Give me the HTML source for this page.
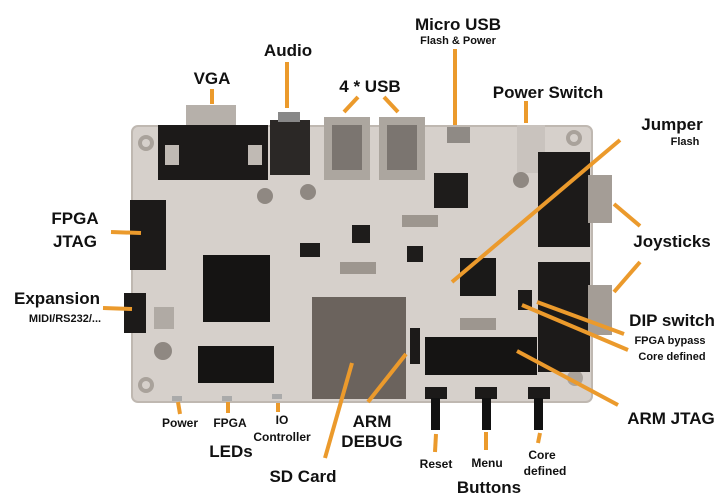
<!DOCTYPE html>
<html><head><meta charset="utf-8"><style>
html,body{margin:0;padding:0;background:#fff;}
svg{display:block;}
text{font-family:"Liberation Sans",Arial,sans-serif;font-weight:bold;fill:#111;}
</style></head><body>
<svg width="728" height="498" viewBox="0 0 728 498" xmlns="http://www.w3.org/2000/svg">
<!-- board -->
<rect x="132" y="126" width="460" height="276" rx="6" fill="#d6d0cb"/>
<rect x="132" y="126" width="460" height="276" rx="6" fill="none" stroke="#bfb8b1" stroke-width="2"/>
<!-- mounting holes -->
<circle cx="146" cy="143" r="8" fill="#a9a29b"/><circle cx="146" cy="143" r="4" fill="#d6d0cb"/>
<circle cx="574" cy="138" r="8" fill="#a9a29b"/><circle cx="574" cy="138" r="4" fill="#d6d0cb"/>
<circle cx="146" cy="385" r="8" fill="#a9a29b"/><circle cx="146" cy="385" r="4" fill="#d6d0cb"/>
<circle cx="575" cy="378" r="8" fill="#a9a29b"/>
<!-- VGA -->
<rect x="186" y="105" width="50" height="22" fill="#b6b0aa"/>
<rect x="158" y="125" width="110" height="55" fill="#1c1a19"/>
<rect x="165" y="145" width="14" height="20" fill="#c0bab4"/><rect x="248" y="145" width="14" height="20" fill="#c0bab4"/>
<!-- Audio -->
<rect x="270" y="120" width="40" height="55" fill="#2b2826"/><rect x="278" y="112" width="22" height="10" fill="#888"/>
<!-- USB -->
<rect x="324" y="117" width="46" height="63" fill="#aca69f"/><rect x="332" y="125" width="30" height="45" fill="#7b7570"/>
<rect x="379" y="117" width="46" height="63" fill="#aca69f"/><rect x="387" y="125" width="30" height="45" fill="#7b7570"/>
<!-- micro usb -->
<rect x="447" y="127" width="23" height="16" fill="#8f8a85"/>
<rect x="517" y="125" width="28" height="48" fill="#c9c3be"/>
<!-- small chips -->
<rect x="434" y="173" width="34" height="35" fill="#1e1c1b"/>
<rect x="352" y="225" width="18" height="18" fill="#1e1c1b"/>
<rect x="407" y="246" width="16" height="16" fill="#1e1c1b"/>
<rect x="300" y="243" width="20" height="14" fill="#1e1c1b"/>
<rect x="402" y="215" width="36" height="12" fill="#9d968f"/>
<rect x="340" y="262" width="36" height="12" fill="#9d968f"/>
<rect x="460" y="318" width="36" height="12" fill="#9d968f"/>
<circle cx="265" cy="196" r="8" fill="#8f8882"/><circle cx="308" cy="192" r="8" fill="#8f8882"/>
<circle cx="163" cy="351" r="9" fill="#8f8882"/><circle cx="521" cy="180" r="8" fill="#8f8882"/>
<!-- FPGA JTAG -->
<rect x="130" y="200" width="36" height="70" fill="#1c1a19"/>
<!-- Expansion -->
<rect x="124" y="293" width="22" height="40" fill="#1c1a19"/>
<rect x="154" y="307" width="20" height="22" fill="#b0aaa4"/>
<!-- FPGA chip -->
<rect x="203" y="255" width="67" height="67" fill="#151413"/>
<!-- SDRAM -->
<rect x="198" y="346" width="76" height="37" fill="#151413"/>
<!-- SD card -->
<rect x="312" y="297" width="94" height="102" fill="#6b635d"/>
<!-- ARM debug header -->
<rect x="410" y="328" width="10" height="36" fill="#1c1a19"/>
<!-- ARM chip -->
<rect x="460" y="258" width="36" height="38" fill="#1a1918"/>
<!-- DIP -->
<rect x="518" y="290" width="14" height="20" fill="#1c1a19"/>
<!-- Joysticks -->
<rect x="538" y="152" width="52" height="95" fill="#1c1a19"/>
<rect x="588" y="175" width="24" height="48" fill="#a49d96"/>
<rect x="538" y="262" width="52" height="110" fill="#1c1a19"/>
<rect x="588" y="285" width="24" height="50" fill="#a49d96"/>
<!-- ARM JTAG -->
<rect x="425" y="337" width="112" height="38" fill="#151413"/>
<!-- buttons -->
<rect x="425" y="387" width="22" height="12" fill="#1c1a19"/><rect x="475" y="387" width="22" height="12" fill="#1c1a19"/><rect x="528" y="387" width="22" height="12" fill="#1c1a19"/>
<rect x="431" y="398" width="9" height="32" fill="#111"/><rect x="482" y="398" width="9" height="32" fill="#111"/><rect x="534" y="398" width="9" height="32" fill="#111"/>
<!-- LEDs -->
<rect x="172" y="396" width="10" height="5" fill="#aaa"/><rect x="222" y="396" width="10" height="5" fill="#aaa"/><rect x="272" y="394" width="10" height="5" fill="#aaa"/>

<!-- orange lines -->
<g stroke="#eb9a2c" stroke-width="4" stroke-linecap="butt" fill="none">
<line x1="212" y1="89" x2="212" y2="104"/>
<line x1="287" y1="62" x2="287" y2="108"/>
<line x1="358" y1="97" x2="344" y2="112"/>
<line x1="384" y1="97" x2="398" y2="112"/>
<line x1="455" y1="49" x2="455" y2="125"/>
<line x1="526" y1="101" x2="526" y2="123"/>
<line x1="620" y1="140" x2="452" y2="282"/>
<line x1="111" y1="232" x2="141" y2="233"/>
<line x1="103" y1="308" x2="132" y2="309"/>
<line x1="614" y1="204" x2="640" y2="226"/>
<line x1="614" y1="292" x2="640" y2="262"/>
<line x1="537" y1="302" x2="624" y2="334"/>
<line x1="522" y1="305" x2="628" y2="350"/>
<line x1="517" y1="351" x2="618" y2="405"/>
<line x1="178" y1="402" x2="180" y2="414"/>
<line x1="228" y1="402" x2="228" y2="413"/>
<line x1="278" y1="403" x2="278" y2="412"/>
<line x1="352" y1="363" x2="325" y2="458"/>
<line x1="406" y1="354" x2="368" y2="402"/>
<line x1="436" y1="434" x2="435" y2="452"/>
<line x1="486" y1="432" x2="486" y2="450"/>
<line x1="540" y1="433" x2="538" y2="443"/>
</g>

<!-- labels -->
<g font-size="17" text-anchor="middle">
<text x="212" y="84">VGA</text>
<text x="288" y="56">Audio</text>
<text x="370" y="92">4 * USB</text>
<text x="458" y="30">Micro USB</text>
<text x="548" y="98">Power Switch</text>
<text x="672" y="130" >Jumper</text>
<text x="75" y="224">FPGA</text>
<text x="75" y="247">JTAG</text>
<text x="57" y="304">Expansion</text>
<text x="672" y="247">Joysticks</text>
<text x="672" y="326">DIP switch</text>
<text x="671" y="424">ARM JTAG</text>
<text x="231" y="457">LEDs</text>
<text x="303" y="482">SD Card</text>
<text x="372" y="427">ARM</text>
<text x="372" y="447">DEBUG</text>
<text x="489" y="493">Buttons</text>
</g>
<g font-size="11" text-anchor="middle">
<text x="458" y="44">Flash &amp; Power</text>
<text x="685" y="145">Flash</text>
<text x="65" y="322">MIDI/RS232/...</text>
<text x="670" y="344">FPGA bypass</text>
<text x="672" y="360">Core defined</text>
</g>
<g font-size="12" text-anchor="middle">
<text x="180" y="427">Power</text>
<text x="230" y="427">FPGA</text>
<text x="282" y="424">IO</text>
<text x="282" y="441">Controller</text>
<text x="436" y="468">Reset</text>
<text x="487" y="467">Menu</text>
<text x="542" y="459">Core</text>
<text x="545" y="475">defined</text>
</g>
</svg>
</body></html>
